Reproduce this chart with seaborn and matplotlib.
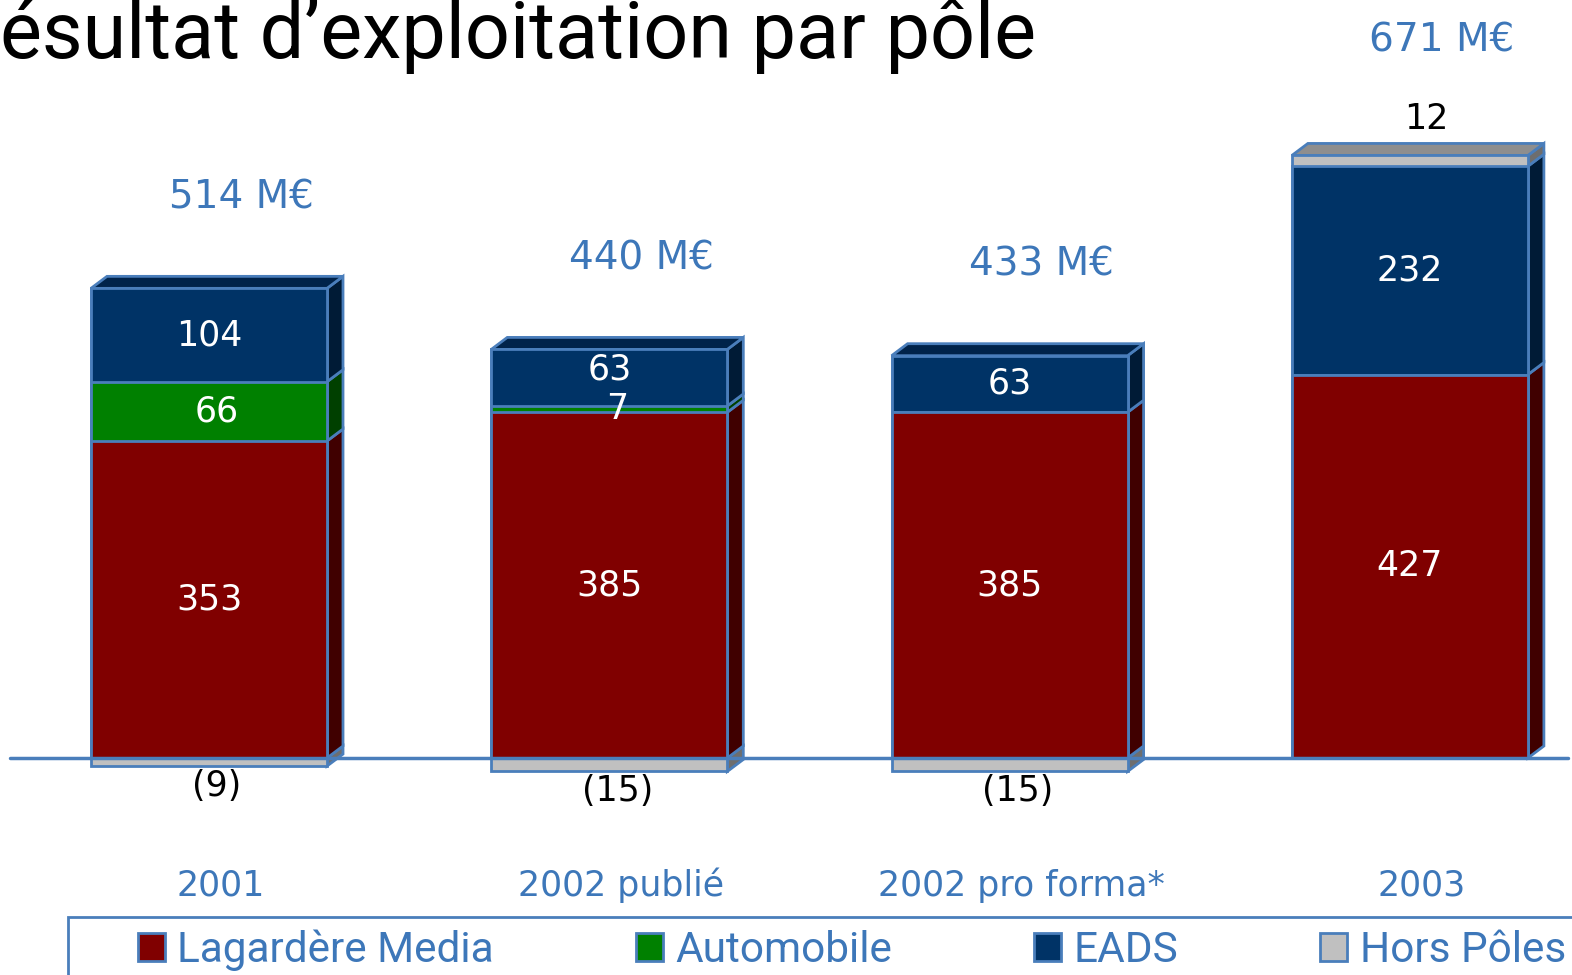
import numpy as np
import pandas as pd
import seaborn as sns
import matplotlib
matplotlib.use("Agg")
from matplotlib import pyplot as plt
from matplotlib.patches import Patch, Rectangle

# 数据
categories = ["2001", "2002 publié", "2002 pro forma*", "2003"]
series_names = ["Lagardère Media", "Automobile", "EADS", "Hors Pôles"]
media = [353, 385, 385, 427]
auto = [66, 7, 0, 0]
eads = [104, 63, 63, 232]
hors_poles = [-9, -15, -15, 12]
totals = [514, 440, 433, 671]

# 颜色
front = ["#800000", "#008000", "#003366", "#C0C0C0"]
side = ["#400000", "#004000", "#001B36", "#6E6E6E"]
top = ["#5C0000", "#005C00", "#00234A", "#8E8E8E"]
edge = "#4A7EBB"
blue_txt = "#3D77B9"

sns.set_style("white")
plt.rcParams['font.family'] = ['DejaVu Sans']
narrow = ['Roboto', 'DejaVu Sans']

W, H = 1572, 975
fig = plt.figure(figsize=(W / 100, H / 100), dpi=100)
ax = fig.add_axes([0, 0, 1, 1])

# 像素 -> 数据坐标
px_x, x0_px = 400.3, 209
px_y, y0_px = 0.898, 758
bar_w = 236 / px_x
dx = 16 / px_x
dy = 12 / px_y

df = pd.DataFrame({"cat": categories, "media": media, "auto": auto,
                   "eads": eads, "hp": hors_poles})
pos_hp = df["hp"].clip(lower=0)
neg_hp = df["hp"].where(df["hp"] < 0)
stack = np.array([df["media"], df["auto"], df["eads"], pos_hp], dtype=float)
cum = np.cumsum(stack, axis=0)

# 正面 (累计高度从上到下画)
for k in reversed(range(4)):
    sns.barplot(x=df["cat"], y=cum[k], order=categories, color=front[k],
                saturation=1, width=bar_w, edgecolor=edge, linewidth=2,
                errorbar=None, ax=ax, zorder=3)
sns.barplot(x=df["cat"], y=neg_hp, order=categories, color=front[3],
            saturation=1, width=bar_w, edgecolor=edge, linewidth=2,
            errorbar=None, ax=ax, zorder=3)

# 侧面和顶面
for i in range(len(categories)):
    xr = i + bar_w / 2
    xl = i - bar_w / 2
    segs = []
    if hors_poles[i] < 0:
        segs.append((hors_poles[i], 0, 3))
    for k in range(4):
        b = cum[k - 1][i] if k > 0 else 0
        t = cum[k][i]
        if t > b:
            segs.append((b, t, k))
    for b, t, k in segs:
        ax.fill([xr, xr + dx, xr + dx, xr], [b, b + dy, t + dy, t],
                facecolor=side[k], edgecolor=edge, linewidth=2, zorder=2)
    b, t, k = segs[-1]
    ax.fill([xl, xl + dx, xr + dx, xr], [t, t + dy, t + dy, t],
            facecolor=top[k], edgecolor=edge, linewidth=2, zorder=2)

    # 标签
    lab_kw = dict(ha="center", va="center", fontsize=25, zorder=5)
    ax.text(i, media[i] / 2, str(media[i]), color="white", **lab_kw)
    if auto[i] > 0:
        ax.text(i + 0.02, media[i] + auto[i] / 2, str(auto[i]), color="white", **lab_kw)
    shift = 9 if 0 < auto[i] < 20 else 0
    ax.text(i, media[i] + auto[i] + eads[i] / 2 + shift, str(eads[i]), color="white", **lab_kw)
    top3d = cum[3][i] + dy
    extra = 0
    if hors_poles[i] < 0:
        ax.text(i + 0.02, hors_poles[i] - 22, "(%d)" % -hors_poles[i], color="black", **lab_kw)
    else:
        ax.text(i + 0.04, top3d + 27, str(hors_poles[i]), color="black", **lab_kw)
        extra = 27
    ax.text(i + 0.08, top3d + 88 + extra, "%d M€" % totals[i], color=blue_txt,
            ha="center", va="center", fontsize=28, zorder=5)
    ax.text(i + 0.03, -142, categories[i], color=blue_txt, ha="center",
            va="center", fontsize=25, zorder=5)

# 基线
ax.axhline(0, xmin=10 / W, xmax=1568 / W, color=edge, linewidth=2.5, zorder=4)

ax.set_xlim(-x0_px / px_x, (W - x0_px) / px_x)
ax.set_ylim(-(H - y0_px) / px_y, y0_px / px_y)
ax.set_xticks([])
ax.set_yticks([])
ax.set_xlabel("")
ax.set_ylabel("")
for s in ax.spines.values():
    s.set_visible(False)

# 标题
fig.text(0, 1 - 58 / H, "ésultat d’exploitation par pôle", fontsize=57,
         family=narrow, ha="left", va="baseline", color="black")

# 图例
fig.patches.append(Rectangle((68 / W, -0.1), 1.2, (H - 917) / H + 0.1,
                             transform=fig.transFigure, fill=False,
                             edgecolor=edge, linewidth=2))
handles = [Patch(facecolor=front[k], edgecolor=edge, linewidth=2) for k in range(4)]
fig.legend(handles, series_names, ncol=4, loc="center left",
           bbox_to_anchor=(138 / W, 1 - 950 / H), frameon=False,
           prop={"family": narrow, "size": 30.5}, labelcolor=blue_txt,
           handlelength=0.63, handleheight=0.63, handletextpad=0.3,
           columnspacing=3.35, borderpad=0, borderaxespad=0)

plt.savefig("out.png", dpi=100)
